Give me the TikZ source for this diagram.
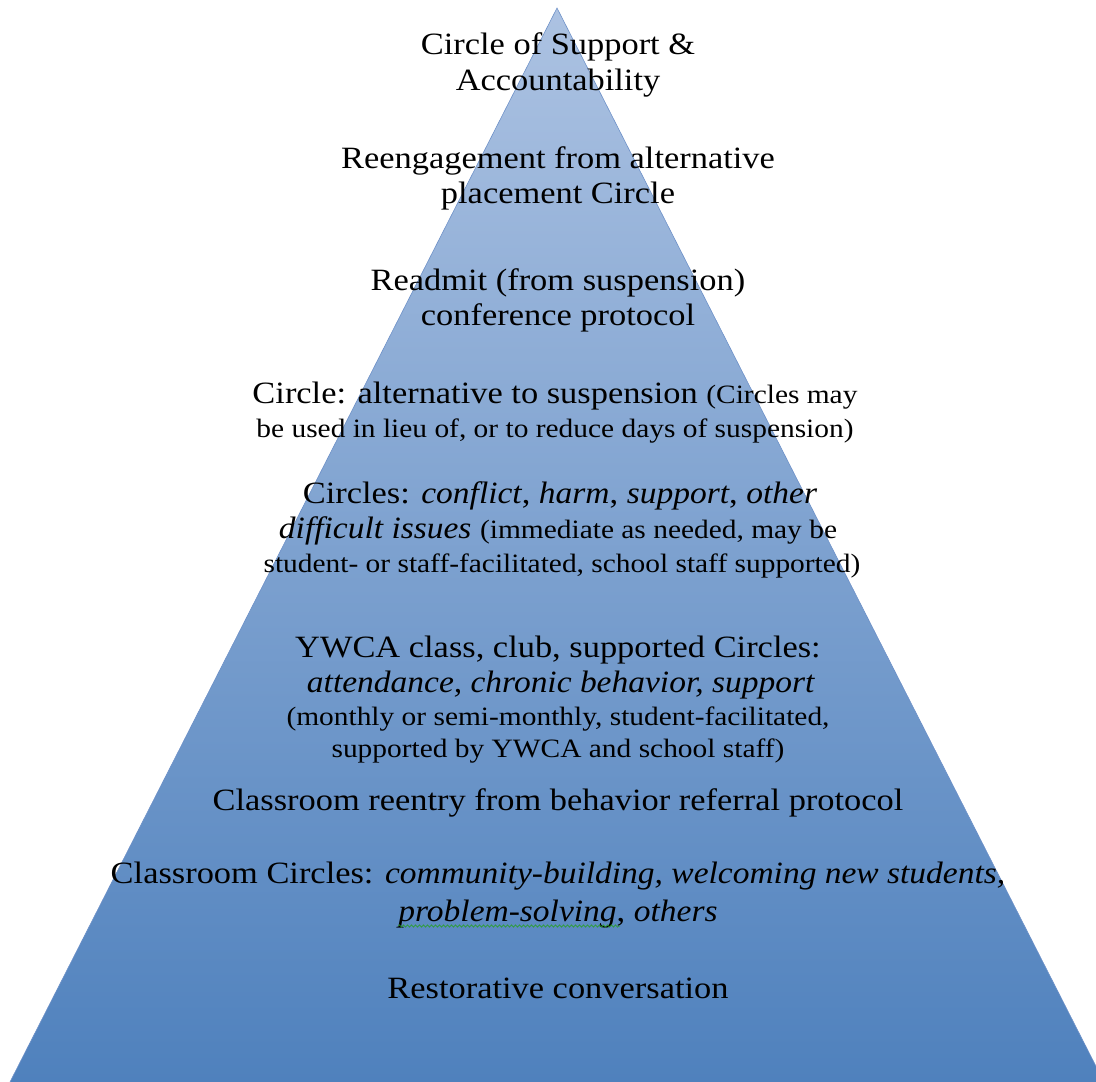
\documentclass[tikz,border=0pt]{standalone}
\usepackage{fontspec}
\setmainfont{Liberation Serif}[FakeStretch=1.11, ItalicFeatures={FakeStretch=1.08}]
\usetikzlibrary{decorations.pathmorphing}
\definecolor{pyrtop}{RGB}{172,194,226}
\definecolor{pyrbot}{RGB}{79,129,189}
\definecolor{pyredge}{RGB}{110,145,200}
\definecolor{spellgreen}{RGB}{40,160,40}
\newcommand{\bigtxt}{\fontsize{31}{36}\selectfont}
\newcommand{\smalltxt}{\fontsize{26.5}{32}\selectfont}
\tikzset{
  lvl/.style={anchor=base, inner sep=0pt, text=black, font=\bigtxt},
  lvlsmall/.style={lvl, font=\smalltxt},
}
\begin{document}
\begin{tikzpicture}[x=1pt, y=-1pt]
\useasboundingbox (0,0) rectangle (1096,1082);
% pyramid with vertical gradient
\begin{scope}
  \clip (0,0) rectangle (1096,1082);
  \shade[top color=pyrtop, bottom color=pyrbot]
    (557,8) -- (10,1082) -- (1104,1082) -- cycle;
  \draw[pyredge, line width=0.6pt] (10,1082) -- (557,8) -- (1104,1082);
\end{scope}
% levels, top to bottom
\node[lvl] (l1a) at (558,54) {Circle of Support \&};
\node[lvl] (l1b) at (558,90) {Accountability};
\node[lvl] (l2a) at (558,168) {Reengagement from alternative};
\node[lvl] (l2b) at (558,203) {placement Circle};
\node[lvl] (l3a) at (558,290) {Readmit (from suspension)};
\node[lvl] (l3b) at (558,325) {conference protocol};
\node[lvl] (l4a) at (555,403) {Circle: alternative to suspension {\smalltxt(Circles may}};
\node[lvlsmall] (l4b) at (555,437) {be used in lieu of, or to reduce days of suspension)};
\node[lvl] (l5a) at (560,503) {Circles: \textit{conflict}, \textit{harm}, \textit{support}, \textit{other}};
\node[lvl] (l5b) at (558,538) {\textit{difficult issues} {\smalltxt(immediate as needed, may be}};
\node[lvlsmall] (l5c) at (562,572) {student- or staff-facilitated, school staff supported)};
\node[lvl] (l6a) at (558,657) {YWCA class, club, supported Circles:};
\node[lvl] (l6b) at (561,692) {\textit{attendance, chronic behavior, support}};
\node[lvlsmall] (l6c) at (558,725) {(monthly or semi-monthly, student-facilitated,};
\node[lvlsmall] (l6d) at (558,757) {supported by YWCA and school staff)};
\node[lvl] (l7) at (558,810) {Classroom reentry from behavior referral protocol};
\node[lvl] (l8a) at (558,883) {Classroom Circles: \textit{community-building, welcoming new students,}};
\node[lvl] (l8b) at (558,921) {\textit{problem-solving}, \textit{others}};
\node[lvl] (l9) at (558,998) {Restorative conversation};
% spell-check squiggle under the first word of the second line
\draw[spellgreen, line width=0.6pt, decorate,
      decoration={snake, amplitude=1.2pt, segment length=4pt}]
  (l8b.base west) ++(0,5) -- ++(222,0);
\end{tikzpicture}
\end{document}
